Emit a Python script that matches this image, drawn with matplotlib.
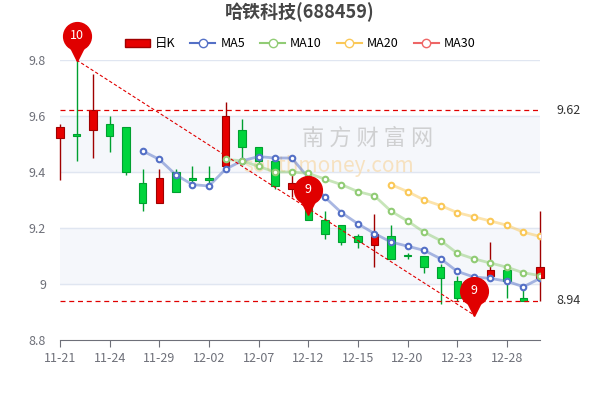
import numpy as np
import matplotlib.pyplot as plt
from matplotlib.lines import Line2D
from matplotlib.patches import Patch

plt.rcParams['font.family'] = ['Noto Sans CJK SC', 'DejaVu Sans']

dates = ['11-21', '11-22', '11-23', '11-24', '11-25', '11-28', '11-29', '11-30', '12-01', '12-02',
         '12-05', '12-06', '12-07', '12-08', '12-09', '12-12', '12-13', '12-14', '12-15', '12-16',
         '12-19', '12-20', '12-21', '12-22', '12-23', '12-26', '12-27', '12-28', '12-29', '12-30']
opens = [9.52, 9.53, 9.55, 9.57, 9.56, 9.36, 9.29, 9.40, 9.38, 9.38,
         9.42, 9.55, 9.49, 9.44, 9.34, 9.32, 9.23, 9.21, 9.17, 9.14,
         9.17, 9.10, 9.10, 9.06, 9.01, 9.00, 9.03, 9.05, 8.95, 9.02]
closes = [9.56, 9.53, 9.62, 9.53, 9.40, 9.29, 9.38, 9.33, 9.37, 9.37,
          9.60, 9.49, 9.44, 9.35, 9.36, 9.23, 9.18, 9.15, 9.15, 9.18,
          9.09, 9.10, 9.06, 9.02, 8.95, 8.96, 9.05, 9.01, 8.94, 9.06]
highs = [9.57, 9.80, 9.75, 9.60, 9.56, 9.41, 9.41, 9.41, 9.42, 9.42,
         9.65, 9.59, 9.49, 9.44, 9.39, 9.33, 9.26, 9.21, 9.18, 9.25,
         9.21, 9.11, 9.10, 9.07, 9.03, 9.01, 9.15, 9.05, 9.00, 9.26]
lows = [9.37, 9.44, 9.45, 9.47, 9.39, 9.26, 9.29, 9.33, 9.36, 9.36,
        9.42, 9.44, 9.43, 9.34, 9.31, 9.23, 9.16, 9.14, 9.13, 9.06,
        9.09, 9.09, 9.04, 8.93, 8.94, 8.89, 9.03, 8.95, 8.94, 8.94]

ma5 = [None] * 5 + [9.475, 9.445, 9.39, 9.355, 9.35, 9.41, 9.44, 9.455, 9.45, 9.45,
                    9.38, 9.31, 9.255, 9.215, 9.18, 9.15, 9.135, 9.12, 9.09, 9.045,
                    9.025, 9.02, 9.01, 8.99, 9.02]
ma10 = [None] * 10 + [9.445, 9.44, 9.42, 9.40, 9.40, 9.395, 9.375, 9.355, 9.33, 9.315,
                      9.26, 9.225, 9.185, 9.155, 9.11, 9.09, 9.075, 9.06, 9.04, 9.03]
ma20 = [None] * 20 + [9.355, 9.33, 9.30, 9.28, 9.255, 9.24, 9.225, 9.21, 9.185, 9.17]

top_line = 9.62
bottom_line = 8.94

fig = plt.figure(figsize=(6, 4), dpi=100)
ax = fig.add_axes([0.1, 0.15, 0.8, 0.7])
x = np.arange(len(dates))

# fondo con bandas
ax.axhspan(9.4, 9.6, color='#f5f7fb', zorder=0)
ax.axhspan(9.0, 9.2, color='#f5f7fb', zorder=0)
for yv in [9.0, 9.2, 9.4, 9.6, 9.8]:
    ax.axhline(yv, color='#e0e6f1', lw=1, zorder=0.5)

# marca de agua
ax.text(0.64, 0.72, '南 方 财 富 网', transform=ax.transAxes, fontsize=16, color='#c0c0c0',
        ha='center', va='center', alpha=0.7, zorder=1)
ax.text(0.56, 0.62, 'southmoney.com', transform=ax.transAxes, fontsize=15, color='#f7d9a8',
        style='italic', ha='center', va='center', alpha=0.7, zorder=1)

# velas
for i in x:
    up = closes[i] > opens[i]
    col = '#e60000' if up else '#00d43c'
    edge = '#a00000' if up else '#00a030'
    ax.vlines(i, lows[i], highs[i], color=edge, lw=1, zorder=3, clip_on=False)
    b0 = min(opens[i], closes[i])
    h = max(abs(closes[i] - opens[i]), 0.004)
    ax.bar(i, h, bottom=b0, width=0.45, color=col, edgecolor=edge, lw=0.8, zorder=4, clip_on=False)


def to_arr(v):
    return np.array([np.nan if a is None else a for a in v])


for vals, c in [(ma5, '#5470c6'), (ma10, '#91cc75'), (ma20, '#fac858')]:
    ax.plot(x, to_arr(vals), color=c, lw=2, alpha=0.5, zorder=5)
    ax.plot(x, to_arr(vals), 'o', ms=4, mfc='white', mec=c, mew=1.5, zorder=6)

# lineas
ax.axhline(top_line, color='#e00000', ls=(0, (4, 3)), lw=0.9, zorder=5)
ax.axhline(bottom_line, color='#e00000', ls=(0, (4, 3)), lw=0.9, zorder=5)
ax.plot([1, 25], [highs[1], lows[25]], color='#e00000', ls=(0, (3, 2)), lw=0.8, zorder=5)
ax.text(30.0, top_line, '%.2f' % top_line, va='center', ha='left', fontsize=9, color='#333333')
ax.text(30.0, bottom_line, '%.2f' % bottom_line, va='center', ha='left', fontsize=9, color='#333333')

# pines
for xi, yi, t in [(1, highs[1], '10'), (15, 9.25, '9'), (25, lows[25], '9')]:
    ax.plot(xi, yi + 0.085, 'o', ms=20, color='#e00000', zorder=10, clip_on=False)
    ax.plot(xi, yi + 0.025, 'v', ms=11, color='#e00000', zorder=10, clip_on=False)
    ax.text(xi, yi + 0.088, t, color='white', fontsize=9, ha='center', va='center', zorder=11)

ax.set_xlim(0, 29)
ax.set_ylim(8.8, 9.8)
ax.set_xticks(x[::3])
ax.set_xticklabels(dates[::3], fontsize=9, color='#6e7079')
ax.set_yticks([8.8, 9.0, 9.2, 9.4, 9.6, 9.8])
ax.set_yticklabels(['8.8', '9', '9.2', '9.4', '9.6', '9.8'], fontsize=9, color='#6e7079')
ax.tick_params(axis='y', length=0, pad=10)
ax.tick_params(axis='x', color='#6e7079', length=5)
for s in ['top', 'right', 'left']:
    ax.spines[s].set_visible(False)
ax.spines['bottom'].set_color('#6e7079')

# leyenda
handles = [Patch(facecolor='#e60000', edgecolor='#a00000', label='日K'),
           Line2D([], [], color='#5470c6', marker='o', mfc='white', label='MA5'),
           Line2D([], [], color='#91cc75', marker='o', mfc='white', label='MA10'),
           Line2D([], [], color='#fac858', marker='o', mfc='white', label='MA20'),
           Line2D([], [], color='#ee6666', marker='o', mfc='white', label='MA30')]
fig.legend(handles=handles, loc='upper center', bbox_to_anchor=(0.5, 0.935), ncol=5, frameon=False,
           fontsize=9, handlelength=2, columnspacing=1.2, handletextpad=0.4)

fig.suptitle('哈铁科技(688459)', y=0.995, fontsize=13, fontweight='bold', color='#464646')
fig.savefig('out.png', dpi=100)
